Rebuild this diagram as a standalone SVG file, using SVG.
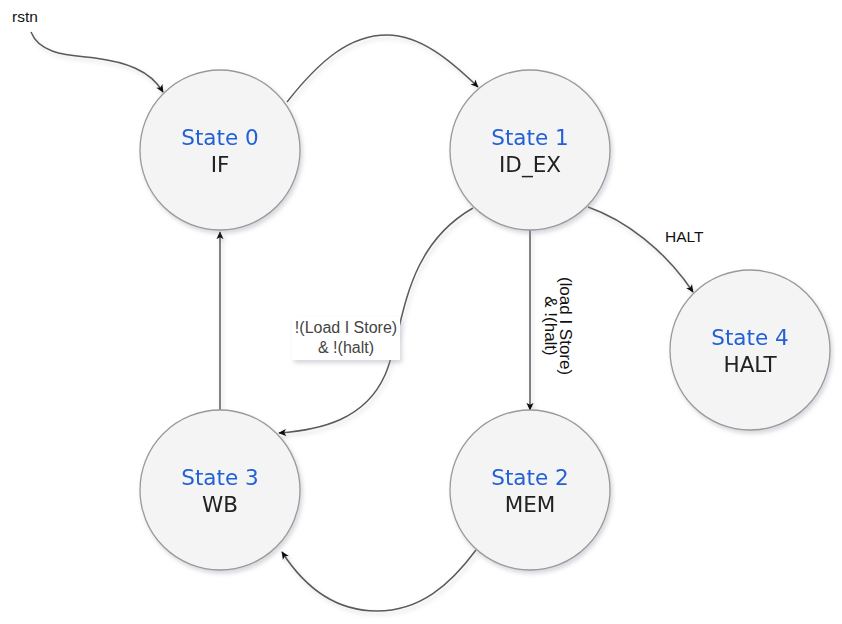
<svg xmlns="http://www.w3.org/2000/svg" width="842" height="624" viewBox="0 0 842 624">
<style>
.st{fill:#f4f4f4;stroke:#9a9a9a;stroke-width:1.3}
.t1{font-family:"DejaVu Sans",Verdana,sans-serif;font-size:21.5px;fill:#2361d6;text-anchor:middle}
.t2{font-family:"DejaVu Sans",Verdana,sans-serif;font-size:21.5px;fill:#222;text-anchor:middle}
.e{fill:none;stroke:#5a5a5a;stroke-width:1.5;marker-end:url(#ah)}
.lb{font-family:"Liberation Sans",Arial,sans-serif;font-size:15.5px;fill:#111}
.lg{font-family:"Liberation Sans",Arial,sans-serif;font-size:16px;fill:#444;text-anchor:middle}
</style>
<defs>
<marker id="ah" viewBox="0 0 10 10" refX="9" refY="5" markerWidth="8" markerHeight="8" markerUnits="userSpaceOnUse" orient="auto">
<path d="M0,0.5 L10,5 L0,9.5 L2.5,5 z" fill="#111"/>
</marker>
<filter id="sh" x="-20%" y="-20%" width="140%" height="140%">
<feDropShadow dx="2" dy="3" stdDeviation="2" flood-color="#8a8aa0" flood-opacity="0.35"/>
</filter>
</defs>
<rect width="842" height="624" fill="#fff"/>
<g id="connectors" filter="url(#sh)">
<path class="e" d="M31,32 C40,55 70,55 95,58 C125,62 150,70 163,92"/>
<path class="e" d="M287,102 C320,60 350,35 387,35 C420,35 450,60 478,87"/>
<path class="e" d="M588,207 C625,220 665,250 693,292"/>
<path class="e" d="M473,208 C400,250 405,330 385,375 C365,420 320,430 279,433"/>
<path class="e" d="M530,230 L530,410"/>
<path class="e" d="M220,410 L220,232"/>
<path class="e" d="M476,550 C450,585 420,611 377,611 C330,611 300,580 282,552"/>
</g>
<g id="labels">
<text class="lb" x="12" y="22">rstn</text>
<text class="lb" x="665" y="242">HALT</text>
<rect x="292" y="317" width="108" height="43" fill="#fff" filter="url(#sh)"/>
<text class="lg"><tspan x="346" y="333">!(Load I Store)</tspan><tspan x="346" y="353">&amp; !(halt)</tspan></text>
<text class="lb" style="font-size:17px" text-anchor="middle" transform="translate(556,326) rotate(90)"><tspan x="0" y="-4">(load I Store)</tspan><tspan x="0" y="11">&amp; !(halt)</tspan></text>
</g>
<g id="state0" filter="url(#sh)">
<circle class="st" cx="220" cy="150" r="80"/>
<text class="t1" x="220" y="145">State 0</text>
<text class="t2" x="220" y="172">IF</text>
</g>
<g id="state1" filter="url(#sh)">
<circle class="st" cx="530" cy="150" r="80"/>
<text class="t1" x="530" y="145">State 1</text>
<text class="t2" x="530" y="172">ID_EX</text>
</g>
<g id="state2" filter="url(#sh)">
<circle class="st" cx="530" cy="490" r="80"/>
<text class="t1" x="530" y="485">State 2</text>
<text class="t2" x="530" y="512">MEM</text>
</g>
<g id="state3" filter="url(#sh)">
<circle class="st" cx="220" cy="490" r="80"/>
<text class="t1" x="220" y="485">State 3</text>
<text class="t2" x="220" y="512">WB</text>
</g>
<g id="state4" filter="url(#sh)">
<circle class="st" cx="750" cy="350" r="80"/>
<text class="t1" x="750" y="345">State 4</text>
<text class="t2" x="750" y="372">HALT</text>
</g>
</svg>
